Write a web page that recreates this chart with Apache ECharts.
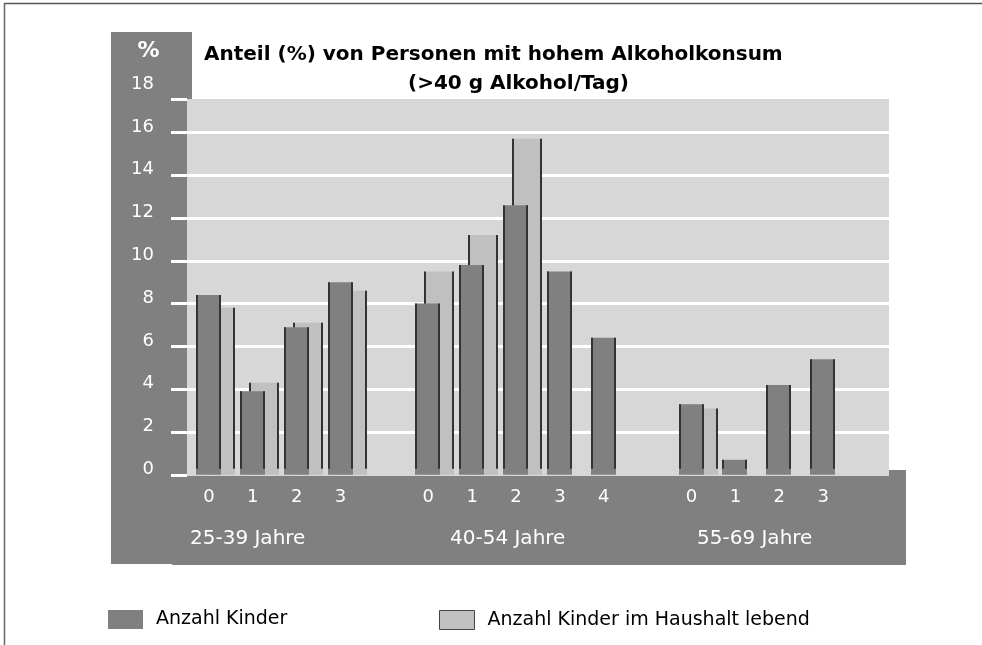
<!DOCTYPE html>
<html>
<head>
<meta charset="utf-8">
<script src="https://cdn.jsdelivr.net/npm/echarts@6/dist/echarts.min.js"></script>
<style>
  html, body { margin: 0; padding: 0; background: #fff; }
  #chart { width: 982px; height: 645px; }
</style>
</head>
<body>
<div id="chart"></div>
<script>
// Anteil (%) von Personen mit hohem Alkoholkonsum, nach Alter und Anzahl Kinder
const categories = ['0', '1', '2', '3', '', '0', '1', '2', '3', '4', '', '0', '1', '2', '3', ''];
const ageGroups = ['25-39 Jahre', '40-54 Jahre', '55-69 Jahre'];
const anzahlKinder = [8.4, 3.9, 6.9, 9.0, null, 8.0, 9.8, 12.6, 9.5, 6.4, null, 3.3, 0.7, 4.2, 5.4, null];
const imHaushalt = [7.8, 4.3, 7.1, 8.6, null, 9.5, 11.2, 15.7, null, null, null, 3.1, null, null, null, null];
const yTopLabel = 18;

const FONT = '"DejaVu Sans", sans-serif';
const DARK = '#808080';
const LIGHT = '#c0c0c0';

// plot area is cut off a little below 18 %
const yMax = 17.56;

function barRenderer(shift, width, fill) {
  return function (params, api) {
    const v = api.value(1);
    if (v == null || isNaN(v)) return null;
    const top = api.coord([api.value(0), v]);
    const base = api.coord([api.value(0), 0]);
    const x = Math.round(top[0] + shift);
    const h = base[1] - top[1];
    const edge = Math.max(h - 6, 0);
    return {
      type: 'group',
      children: [
        { type: 'rect', shape: { x: x, y: top[1], width: width, height: h }, style: { fill: fill } },
        { type: 'rect', shape: { x: x, y: top[1], width: 2, height: edge }, style: { fill: '#333' } },
        { type: 'rect', shape: { x: x + width - 2, y: top[1], width: 2, height: edge }, style: { fill: '#333' } }
      ]
    };
  };
}

const chart = echarts.init(document.getElementById('chart'));

const titleStyle = { fontFamily: FONT, fontWeight: 'bold', fontSize: 20, color: '#000' };
const legendText = { fontFamily: FONT, fontSize: 19, color: '#000', padding: [0, 0, 0, 8] };

const option = {
  animation: false,
  title: [
    { text: 'Anteil (%) von Personen mit hohem Alkoholkonsum', left: 204, top: 45, padding: 0, textStyle: titleStyle },
    { text: '(>40 g Alkohol/Tag)', left: 408, top: 74, padding: 0, textStyle: titleStyle }
  ],
  legend: [
    {
      data: [{ name: 'Anzahl Kinder', itemStyle: { color: DARK } }],
      left: 108, top: 610, padding: 0,
      icon: 'rect', itemWidth: 35, itemHeight: 19,
      selectedMode: false,
      textStyle: legendText
    },
    {
      data: [{ name: 'Anzahl Kinder im Haushalt lebend', itemStyle: { color: LIGHT, borderColor: '#444', borderWidth: 1 } }],
      left: 439, top: 610, padding: 0,
      icon: 'rect', itemWidth: 35, itemHeight: 19,
      selectedMode: false,
      textStyle: legendText
    }
  ],
  grid: { left: 187, right: 93, top: 99, bottom: 170.2, containLabel: false },
  xAxis: {
    type: 'category',
    data: categories,
    z: 3,
    axisLine: { show: false },
    axisTick: { show: false },
    axisLabel: { interval: 0, color: '#fff', fontFamily: FONT, fontSize: 18, margin: 14 },
    splitLine: { show: false }
  },
  yAxis: {
    type: 'value',
    min: 0,
    max: yMax,
    interval: 2,
    z: 3,
    axisLine: { show: false },
    axisTick: { show: true, length: 16, lineStyle: { color: '#fff', width: 3 } },
    axisLabel: {
      color: '#fff',
      fontFamily: FONT,
      fontSize: 18,
      margin: 33,
      formatter: function (v) {
        return v > 17 ? '{top|' + yTopLabel + '}' : '{n|' + v + '}';
      },
      rich: {
        n: { color: '#fff', fontFamily: FONT, fontSize: 18, padding: [0, 0, 11, 0] },
        top: { color: '#fff', fontFamily: FONT, fontSize: 18, padding: [0, 0, 30, 0] }
      }
    },
    splitLine: { show: true, showMinLine: false, showMaxLine: false, lineStyle: { color: '#fff', width: 3 } }
  },
  graphic: [
    { type: 'rect', z: 0, shape: { x: 111, y: 32, width: 81, height: 532 }, style: { fill: DARK } },
    { type: 'rect', z: 0, shape: { x: 172, y: 470, width: 734, height: 95 }, style: { fill: DARK } },
    { type: 'rect', z: 1, shape: { x: 187, y: 99, width: 702, height: 377 }, style: { fill: '#d7d7d7' } },
    { type: 'line', z: 1, shape: { x1: 4, y1: 3.5, x2: 982, y2: 3.5 }, style: { stroke: '#555', lineWidth: 1.5 } },
    { type: 'line', z: 1, shape: { x1: 4.5, y1: 3, x2: 4.5, y2: 645 }, style: { stroke: '#666', lineWidth: 1.5 } },
    { type: 'text', z: 5, style: { text: '%', x: 148.5, y: 51, align: 'center', verticalAlign: 'middle', fill: '#fff', fontFamily: FONT, fontWeight: 'bold', fontSize: 22 } },
    { type: 'text', z: 5, style: { text: ageGroups[0], x: 190, y: 539, verticalAlign: 'middle', fill: '#fff', fontFamily: FONT, fontSize: 20 } },
    { type: 'text', z: 5, style: { text: ageGroups[1], x: 450, y: 539, verticalAlign: 'middle', fill: '#fff', fontFamily: FONT, fontSize: 20 } },
    { type: 'text', z: 5, style: { text: ageGroups[2], x: 697, y: 539, verticalAlign: 'middle', fill: '#fff', fontFamily: FONT, fontSize: 20 } }
  ],
  series: [
    {
      name: 'Anzahl Kinder im Haushalt lebend',
      type: 'custom',
      z: 4,
      itemStyle: { color: LIGHT },
      encode: { x: 0, y: 1 },
      renderItem: barRenderer(-4, 30, LIGHT),
      data: imHaushalt.map(function (v, i) { return [i, v]; })
    },
    {
      name: 'Anzahl Kinder',
      type: 'custom',
      z: 5,
      itemStyle: { color: DARK },
      encode: { x: 0, y: 1 },
      renderItem: barRenderer(-13, 25, DARK),
      data: anzahlKinder.map(function (v, i) { return [i, v]; })
    }
  ]
};

chart.setOption(option);
</script>
</body>
</html>
